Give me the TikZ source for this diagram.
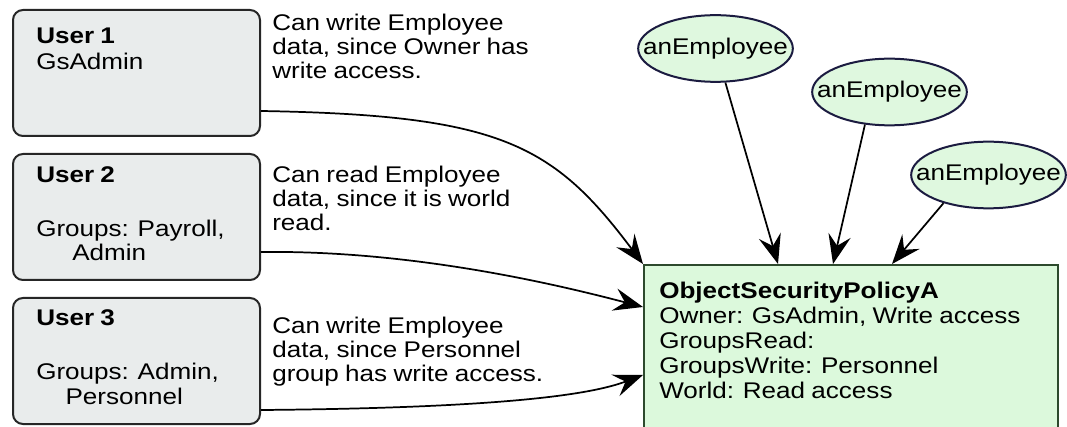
\documentclass[tikz,border=0pt]{standalone}
\usepackage{fontspec}
\setmainfont{Liberation Sans}[FakeStretch=1.15,WordSpace=0.87]
\usetikzlibrary{shapes.geometric,arrows.meta}

\definecolor{userfill}{RGB}{233,236,236}
\definecolor{policyfill}{RGB}{220,249,220}
\definecolor{policyline}{RGB}{45,74,45}
\definecolor{empfill}{RGB}{223,248,223}
\definecolor{empline}{RGB}{27,27,64}

\tikzset{
	userbox/.style={draw=black!85,line width=1.5pt,fill=userfill,rounded corners=7.5pt,minimum width=185.25pt,minimum height=94.5pt,anchor=north west},
	policybox/.style={draw=policyline,line width=1.5pt,fill=policyfill,minimum width=310.5pt,minimum height=150pt,anchor=north west},
	employee/.style={ellipse,draw=empline,line width=1.5pt,fill=empfill,inner xsep=-25pt,inner ysep=0pt,minimum width=116pt,minimum height=50pt},
	txt/.style={align=left,inner sep=0pt,anchor=base west},
	link/.style={line width=1.3pt,-{Stealth[length=22pt,width=17pt,inset=8pt]}}
}

\begin{document}
\begin{tikzpicture}[x=0.75pt,y=-0.75pt,font=\fontsize{17pt}{18pt}\selectfont]
		\useasboundingbox (0,0) rectangle (1067,427);
		
		\node[userbox] (u1) at (12,9) {};
		\node[userbox] (u2) at (12,153) {};
		\node[userbox] (u3) at (12,297) {};
		\node[txt] (u1txt) at (36,70) {\textbf{User 1}\\[1.5pt]GsAdmin};
		\node[txt] (u2txt) at (36,261) {\textbf{User 2}\\[23pt]Groups: Payroll,\\\hspace{27pt}Admin};
		\node[txt] (u3txt) at (36,404) {\textbf{User 3}\\[23pt]Groups: Admin,\\\hspace{22pt}Personnel};
		
		\node[txt] (lab1) at (272,79) {Can write Employee\\data, since Owner has\\write access.};
		\node[txt] (lab2) at (272,231) {Can read Employee\\data, since it is world\\read.};
		\node[txt] (lab3) at (272,382) {Can write Employee\\data, since Personnel\\group has write access.};
		
		\node[policybox] (pol) at (643,264) {};
		\node[txt] (poltxt) at (659,398) {\textbf{ObjectSecurityPolicyA}\\[0.75pt]Owner: GsAdmin, Write access\\[0.75pt]GroupsRead:\\[0.75pt]GroupsWrite: Personnel\\[0.75pt]World: Read access};
		
		\node[employee] (e1) at (715.5,48.5) {anEmployee};
		\node[employee] (e2) at (889.5,92) {anEmployee};
		\node[employee] (e3) at (988.5,175) {anEmployee};
		
		\draw[link] ([yshift=19.5pt]u1.south east) .. controls (500,115) and (553,144) .. (pol.north west);
		\draw[link] ([yshift=21.75pt]u2.south east) .. controls (420,250) and (570,288) .. ([yshift=-32.25pt]pol.north west);
		\draw[link] ([yshift=11.25pt]u3.south east) .. controls (500,408) and (590,395) .. ([yshift=-83.25pt]pol.north west);
		\draw[link] (e1) -- ([xshift=101.25pt]pol.north west);
		\draw[link] (e2.-127) -- ([xshift=142.5pt]pol.north west);
		\draw[link] (e3.-148) -- ([xshift=186.75pt]pol.north west);
	\end{tikzpicture}
\end{document}
